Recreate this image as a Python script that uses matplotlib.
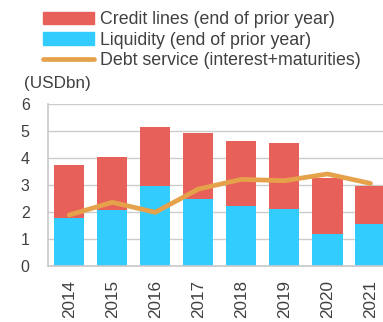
import numpy as np
import matplotlib.pyplot as plt
from matplotlib.patches import Patch
from matplotlib.lines import Line2D

# =========================================================
# Data (USD bn)
# =========================================================
years = ["2014", "2015", "2016", "2017", "2018", "2019", "2020", "2021"]
liquidity = [1.80, 2.08, 2.99, 2.49, 2.23, 2.12, 1.20, 1.57]
total_available = [3.74, 4.04, 5.15, 4.93, 4.65, 4.55, 3.26, 2.99]
credit_lines = [t - l for t, l in zip(total_available, liquidity)]
debt_service = [1.90, 2.37, 2.00, 2.86, 3.22, 3.17, 3.42, 3.07]

red = "#E8605A"
blue = "#33CCFF"
orange = "#E6A24A"
grey_text = "#404040"

plt.rcParams['font.family'] = ['Liberation Sans', 'DejaVu Sans']

fig = plt.figure(figsize=(3.83, 3.22), dpi=100)
ax = fig.add_axes([0.1245, 0.173, 0.899, 0.503])

x = np.arange(len(years))
ax.bar(x, liquidity, width=0.7, color=blue, zorder=2)
ax.bar(x, credit_lines, width=0.7, bottom=liquidity, color=red, zorder=2)
ax.plot(x, debt_service, color=orange, lw=3.4, solid_capstyle='round',
        solid_joinstyle='round', zorder=3)

ax.set_xlim(-0.5, 7.5)
ax.set_ylim(0, 6)
ax.set_yticks(range(0, 7))
ax.set_xticks(x)
ax.set_xticklabels(years, rotation=90)
ax.tick_params(length=0, colors=grey_text)
ax.tick_params(axis='y', labelsize=11.5, pad=13)
ax.tick_params(axis='x', labelsize=12.3, pad=10)
ax.grid(axis='y', color="#cccccc", lw=1, zorder=0)
ax.set_axisbelow(True)
for s in ['top', 'right']:
    ax.spines[s].set_visible(False)
for s in ['left', 'bottom']:
    ax.spines[s].set_color("#c8c8c8")
    ax.spines[s].set_linewidth(1.2)

fig.text(0.063, 0.74, "(USDbn)", fontsize=12.3, color=grey_text, va='center')

handles = [Patch(color=red), Patch(color=blue),
           Line2D([0], [0], color=orange, lw=3.4, solid_capstyle='round')]
labels = ["Credit lines (end of prior year)",
          "Liquidity (end of prior year)",
          "Debt service (interest+maturities)"]
leg = fig.legend(handles, labels, loc='upper left', bbox_to_anchor=(0.112, 0.965),
                 frameon=False, fontsize=12.8, handlelength=2.9, handletextpad=0.33,
                 labelspacing=0.2, borderpad=0, borderaxespad=0)
for t in leg.get_texts():
    t.set_color(grey_text)

fig.savefig("out.png", dpi=100)
